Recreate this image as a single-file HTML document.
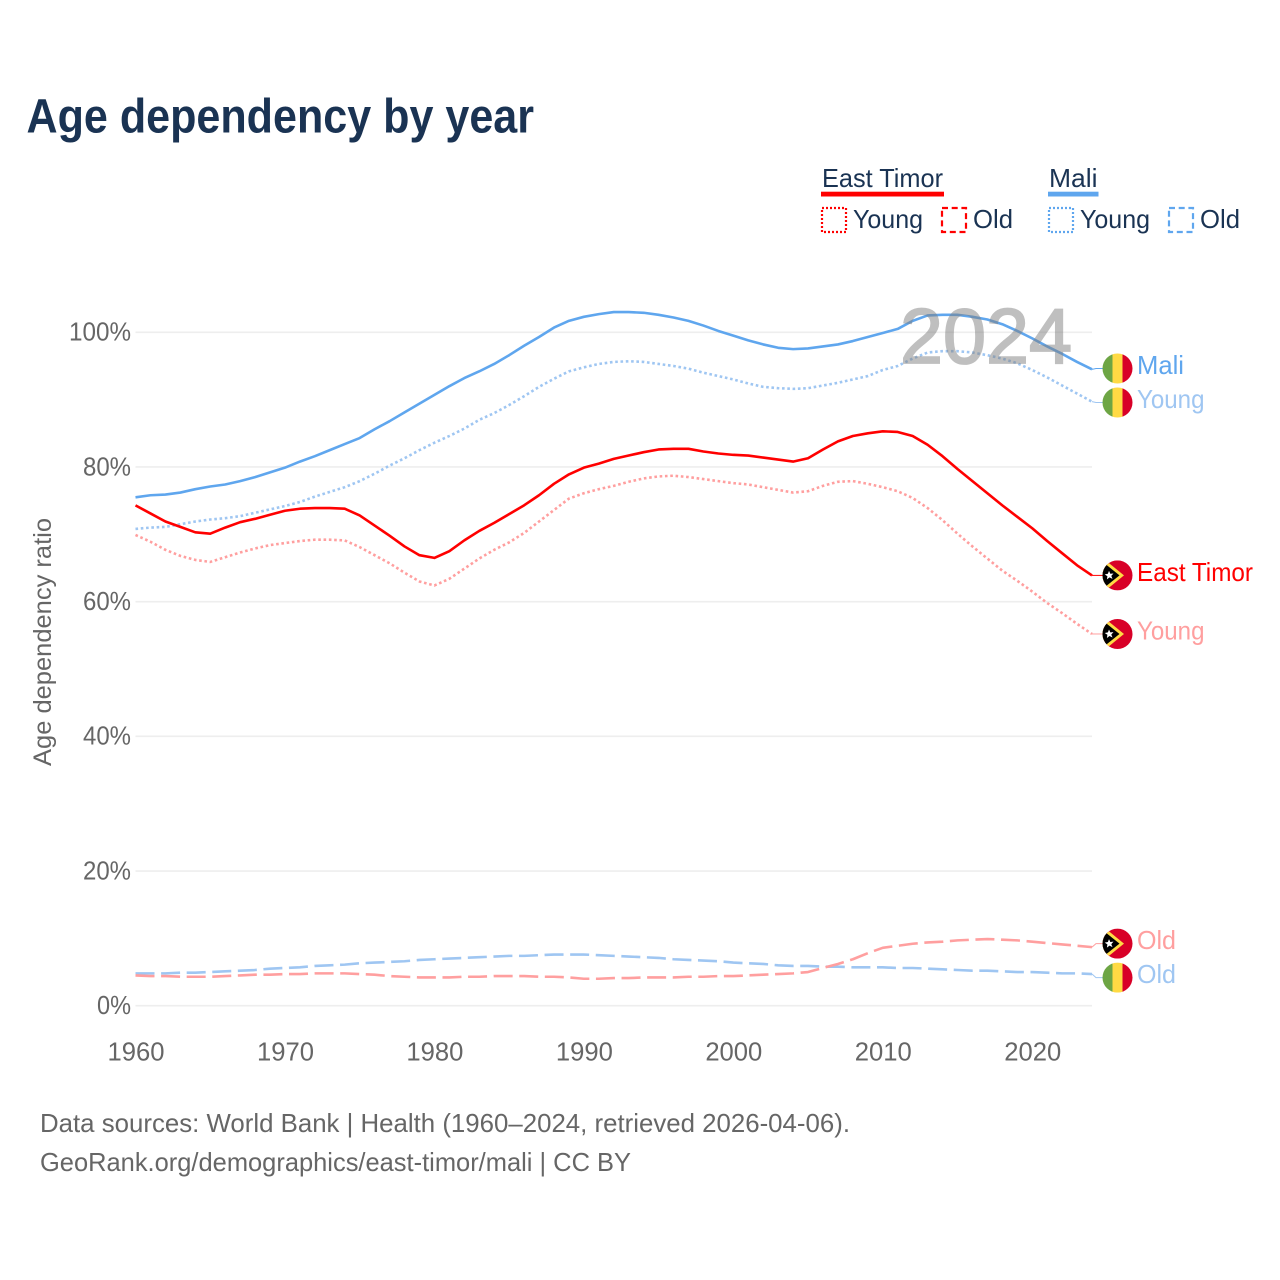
<!DOCTYPE html>
<html lang="en">
<head>
<meta charset="utf-8">
<title>Age dependency by year</title>
<style>
html,body{margin:0;padding:0;background:#fff;width:1280px;height:1280px;overflow:hidden}
svg{display:block}
text{font-family:"Liberation Sans",sans-serif}
</style>
</head>
<body>
<svg id="chart" xmlns="http://www.w3.org/2000/svg" width="1280" height="1280" viewBox="0 0 1280 1280">
  <defs>
    <clipPath id="flag-clip"><circle cx="0" cy="0" r="15"></circle></clipPath>
  </defs>
  <rect width="1280" height="1280" fill="#fff"></rect>
  <text x="26.5" y="132.5" font-size="48" font-weight="700" fill="#1a3353" textLength="507.5" lengthAdjust="spacingAndGlyphs">Age dependency by year</text>

  <g font-size="26" fill="#1a3353">
    <text x="822" y="187" textLength="121" lengthAdjust="spacingAndGlyphs">East Timor</text>
    <rect x="821" y="191.7" width="123" height="4.8" fill="#ff0000"></rect>
    <rect x="822" y="208" width="24" height="24" fill="none" stroke="#ff0000" stroke-width="2.2" stroke-dasharray="2 2"></rect>
    <text x="853" y="228" textLength="70" lengthAdjust="spacingAndGlyphs">Young</text>
    <rect x="942" y="208" width="24" height="24" fill="none" stroke="#ff0000" stroke-width="2.2" stroke-dasharray="6 3.7"></rect>
    <text x="973" y="228" textLength="40" lengthAdjust="spacingAndGlyphs">Old</text>
    <text x="1049" y="187" textLength="48.5" lengthAdjust="spacingAndGlyphs">Mali</text>
    <rect x="1048" y="191.7" width="50.5" height="4.8" fill="#5fa6ee"></rect>
    <rect x="1049" y="208" width="24" height="24" fill="none" stroke="#5fa6ee" stroke-width="2.2" stroke-dasharray="2 2"></rect>
    <text x="1080" y="228" textLength="70" lengthAdjust="spacingAndGlyphs">Young</text>
    <rect x="1169" y="208" width="24" height="24" fill="none" stroke="#5fa6ee" stroke-width="2.2" stroke-dasharray="6 3.7"></rect>
    <text x="1200" y="228" textLength="40" lengthAdjust="spacingAndGlyphs">Old</text>
  </g>

  <g id="grid"></g>
  <g id="y-ticks"></g>
  <g id="x-ticks"></g>
  <text transform="translate(51,642) rotate(-90)" text-anchor="middle" font-size="25" fill="#666666" textLength="248" lengthAdjust="spacingAndGlyphs">Age dependency ratio</text>
  <g id="series"></g>
  <text x="900" y="363" font-size="78" fill="#808080" stroke="#808080" stroke-width="1.8" opacity="0.5" textLength="172" lengthAdjust="spacingAndGlyphs">2024</text>
  <g id="end-labels"></g>

  <text x="40" y="1132" font-size="26" fill="#666666" textLength="810" lengthAdjust="spacingAndGlyphs">Data sources: World Bank | Health (1960–2024, retrieved 2026-04-06).</text>
  <text x="40" y="1171" font-size="26" fill="#666666" textLength="591" lengthAdjust="spacingAndGlyphs">GeoRank.org/demographics/east-timor/mali | CC BY</text>
</svg>

<script>
const years = [1960,1961,1962,1963,1964,1965,1966,1967,1968,1969,1970,1971,1972,1973,1974,1975,1976,1977,1978,1979,1980,1981,1982,1983,1984,1985,1986,1987,1988,1989,1990,1991,1992,1993,1994,1995,1996,1997,1998,1999,2000,2001,2002,2003,2004,2005,2006,2007,2008,2009,2010,2011,2012,2013,2014,2015,2016,2017,2018,2019,2020,2021,2022,2023,2024];
const eastTimorTotal = [74.3,73.1,71.9,71.1,70.3,70.1,71.0,71.8,72.3,72.9,73.5,73.8,73.9,73.9,73.8,72.8,71.3,69.8,68.2,66.9,66.5,67.5,69.1,70.5,71.7,73.0,74.3,75.8,77.5,78.9,79.9,80.5,81.2,81.7,82.2,82.6,82.7,82.7,82.3,82.0,81.8,81.7,81.4,81.1,80.8,81.3,82.6,83.8,84.6,85.0,85.3,85.2,84.6,83.3,81.6,79.7,77.9,76.1,74.3,72.6,70.9,69.0,67.2,65.4,63.9];
const eastTimorYoung = [69.9,68.9,67.7,66.8,66.2,65.9,66.6,67.3,67.9,68.4,68.7,69.0,69.2,69.2,69.1,68.1,66.9,65.7,64.3,63.0,62.4,63.4,64.9,66.4,67.7,68.8,70.2,71.9,73.6,75.3,76.1,76.7,77.2,77.8,78.3,78.6,78.7,78.5,78.2,77.9,77.6,77.4,77.0,76.6,76.2,76.4,77.2,77.8,77.9,77.5,77.0,76.4,75.4,73.9,72.1,70.1,68.2,66.4,64.6,63.1,61.5,59.8,58.3,56.7,55.2];
const eastTimorOld = [4.5,4.4,4.4,4.3,4.3,4.3,4.4,4.5,4.6,4.6,4.7,4.7,4.8,4.8,4.8,4.7,4.6,4.4,4.3,4.2,4.2,4.2,4.3,4.3,4.4,4.4,4.4,4.3,4.3,4.2,4.0,4.0,4.1,4.1,4.2,4.2,4.2,4.3,4.3,4.4,4.4,4.5,4.6,4.7,4.8,5.0,5.6,6.2,6.9,7.8,8.6,8.9,9.2,9.4,9.5,9.7,9.8,9.9,9.8,9.7,9.5,9.3,9.1,8.9,8.7];
const maliTotal = [75.5,75.8,75.9,76.2,76.7,77.1,77.4,77.9,78.5,79.2,79.9,80.8,81.6,82.5,83.4,84.3,85.6,86.8,88.1,89.4,90.7,92.0,93.2,94.2,95.3,96.6,98.0,99.3,100.7,101.7,102.3,102.7,103.0,103.0,102.9,102.6,102.2,101.7,101.0,100.2,99.5,98.8,98.2,97.7,97.5,97.6,97.9,98.2,98.7,99.3,99.9,100.5,101.7,102.5,102.6,102.6,102.3,101.9,101.2,100.2,99.1,97.9,96.8,95.6,94.5];
const maliYoung = [70.8,71.0,71.1,71.5,71.9,72.2,72.4,72.7,73.2,73.7,74.2,74.8,75.6,76.3,77.0,77.9,79.0,80.2,81.3,82.5,83.6,84.6,85.7,87.0,88.0,89.2,90.5,91.9,93.1,94.2,94.8,95.3,95.6,95.7,95.6,95.3,95.0,94.6,94.0,93.5,93.0,92.4,91.9,91.7,91.6,91.7,92.1,92.5,93.0,93.5,94.4,95.0,96.1,97.0,97.2,97.2,97.0,96.6,96.1,95.4,94.4,93.3,92.1,90.9,89.7];
const maliOld = [4.8,4.8,4.8,4.9,4.9,5.0,5.1,5.2,5.3,5.5,5.6,5.7,5.9,6.0,6.1,6.3,6.4,6.5,6.6,6.8,6.9,7.0,7.1,7.2,7.3,7.4,7.4,7.5,7.6,7.6,7.6,7.5,7.4,7.3,7.2,7.1,6.9,6.8,6.7,6.6,6.4,6.3,6.2,6.0,5.9,5.9,5.8,5.8,5.7,5.7,5.7,5.6,5.6,5.5,5.4,5.3,5.2,5.2,5.1,5.0,5.0,4.9,4.8,4.8,4.7];
const yTickValues = [0,20,40,60,80,100];
const xTickValues = [1960,1970,1980,1990,2000,2010,2020];

const NS = 'http://www.w3.org/2000/svg';
const X0 = 135.5, X1 = 1092, Y0 = 1005.7, Y100 = 332.3;
function xScale(year){ return X0 + (year - years[0]) * (X1 - X0) / (years[years.length-1] - years[0]); }
function yScale(v){ return Y0 - v * (Y0 - Y100) / 100; }
function make(tag, parent){ const e = document.createElementNS(NS, tag); parent.appendChild(e); return e; }

const RED='#ff0000', RED_L='#ff9f9f', BLUE='#5fa6ee', BLUE_L='#9fc6f2';
const DOT='2.6 2.7', DASH='19 6.6';

const gridG = document.getElementById('grid');
const yG = document.getElementById('y-ticks');
yTickValues.forEach(function(v){
  const ln = make('line', gridG);
  
  
  ln.setAttribute('x1', X0); ln.setAttribute('x2', X1);
  ln.setAttribute('y1', yScale(v)); ln.setAttribute('y2', yScale(v));
  ln.setAttribute('stroke', '#eeeeee'); ln.setAttribute('stroke-width', '1.6');
  const t = make('text', yG);
  
  
  const s = v + '%';
  const w = 14 * s.length + 6;
  t.setAttribute('x', 131 - w); t.setAttribute('y', yScale(v) + 8.3);
  t.setAttribute('font-size', '26'); t.setAttribute('fill', '#666666');
  t.setAttribute('textLength', w); t.setAttribute('lengthAdjust', 'spacingAndGlyphs');
  t.textContent = s;
});

const xG = document.getElementById('x-ticks');
xTickValues.forEach(function(y){
  const t = make('text', xG);
  
  
  t.setAttribute('x', xScale(y) - 28); t.setAttribute('y', 1060.7);
  t.setAttribute('font-size', '26'); t.setAttribute('fill', '#666666');
  t.setAttribute('textLength', '57'); t.setAttribute('lengthAdjust', 'spacingAndGlyphs');
  t.textContent = y;
});

const seriesList = [
  {id:'mali-old-line', v:maliOld, c:BLUE_L, d:DASH, label:'Old', w:39, flag:'mali'},
  {id:'east-timor-old-line', v:eastTimorOld, c:RED_L, d:DASH, label:'Old', w:39, flag:'tl'},
  {id:'east-timor-young-line', v:eastTimorYoung, c:RED_L, d:DOT, label:'Young', w:67.5, flag:'tl'},
  {id:'mali-young-line', v:maliYoung, c:BLUE_L, d:DOT, label:'Young', w:67.5, flag:'mali'},
  {id:'east-timor-total-line', v:eastTimorTotal, c:RED, d:null, label:'East Timor', w:116, flag:'tl'},
  {id:'mali-total-line', v:maliTotal, c:BLUE, d:null, label:'Mali', w:47, flag:'mali'}
];

const seriesG = document.getElementById('series');
seriesList.forEach(function(s){
  const p = make('path', seriesG);
  
  
  p.setAttribute('d', s.v.map(function(v,i){ return (i?'L':'M') + xScale(years[i]).toFixed(2) + ' ' + yScale(v).toFixed(2); }).join(''));
  p.setAttribute('fill', 'none'); p.setAttribute('stroke', s.c);
  p.setAttribute('stroke-width', '2.6'); p.setAttribute('stroke-linejoin', 'round');
  if (s.d) p.setAttribute('stroke-dasharray', s.d);
});

// end labels: spread apart so that flags never overlap
const ends = seriesList.map(function(s){ const y = yScale(s.v[s.v.length-1]); return {s:s, end:y, y:y}; });
ends.sort(function(a,b){ return a.end - b.end; });
const MIN_GAP = 34;
for (let i = 1; i < ends.length; i++) {
  const gap = ends[i].y - ends[i-1].y;
  if (gap < MIN_GAP) { const push = (MIN_GAP - gap) / 2; ends[i-1].y -= push; ends[i].y += push; }
}

function drawFlag(parent, kind, cy){
  const g = make('g', parent);
  
  
  g.setAttribute('transform', 'translate(1117.5,' + cy.toFixed(2) + ')');
  const inner = make('g', g);
  inner.setAttribute('clip-path', 'url(#flag-clip)');
  function rect(x,w,fill){ const r = make('rect', inner); r.setAttribute('x',x); r.setAttribute('y',-15); r.setAttribute('width',w); r.setAttribute('height',30); r.setAttribute('fill',fill); }
  function poly(pts,fill){ const r = make('polygon', inner); r.setAttribute('points',pts); r.setAttribute('fill',fill); }
  if (kind === 'mali') {
    rect(-15,10,'#6da544'); rect(-5,10,'#ffda44'); rect(5,10,'#d80027');
  } else {
    rect(-15,30,'#d80027');
    poly('-18,-20 6.5,0 -18,20','#ffda44');
    poly('-18,-16 2,0 -18,16','#000000');
    poly('-8.5,-4.5 -7.2,-1.6 -4,-1.9 -6.2,0.5 -5,3.5 -8,2 -10.6,4 -10.1,0.8 -12.8,-1 -9.6,-1.6','#ffffff');
  }
}

const labelsG = document.getElementById('end-labels');
ends.forEach(function(e){
  const stub = make('path', labelsG);
  
  
  stub.setAttribute('d', 'M' + X1 + ' ' + e.end.toFixed(2) + 'L1096 ' + e.y.toFixed(2) + 'L1104 ' + e.y.toFixed(2));
  stub.setAttribute('fill', 'none'); stub.setAttribute('stroke', e.s.c); stub.setAttribute('stroke-width', '1');
  drawFlag(labelsG, e.s.flag, e.y);
  const t = make('text', labelsG);
  
  
  t.setAttribute('x', 1137); t.setAttribute('y', (e.y + 5.6).toFixed(2));
  t.setAttribute('font-size', '26'); t.setAttribute('fill', e.s.c);
  t.setAttribute('textLength', e.s.w); t.setAttribute('lengthAdjust', 'spacingAndGlyphs');
  t.textContent = e.s.label;
});
</script>
</body>
</html>
